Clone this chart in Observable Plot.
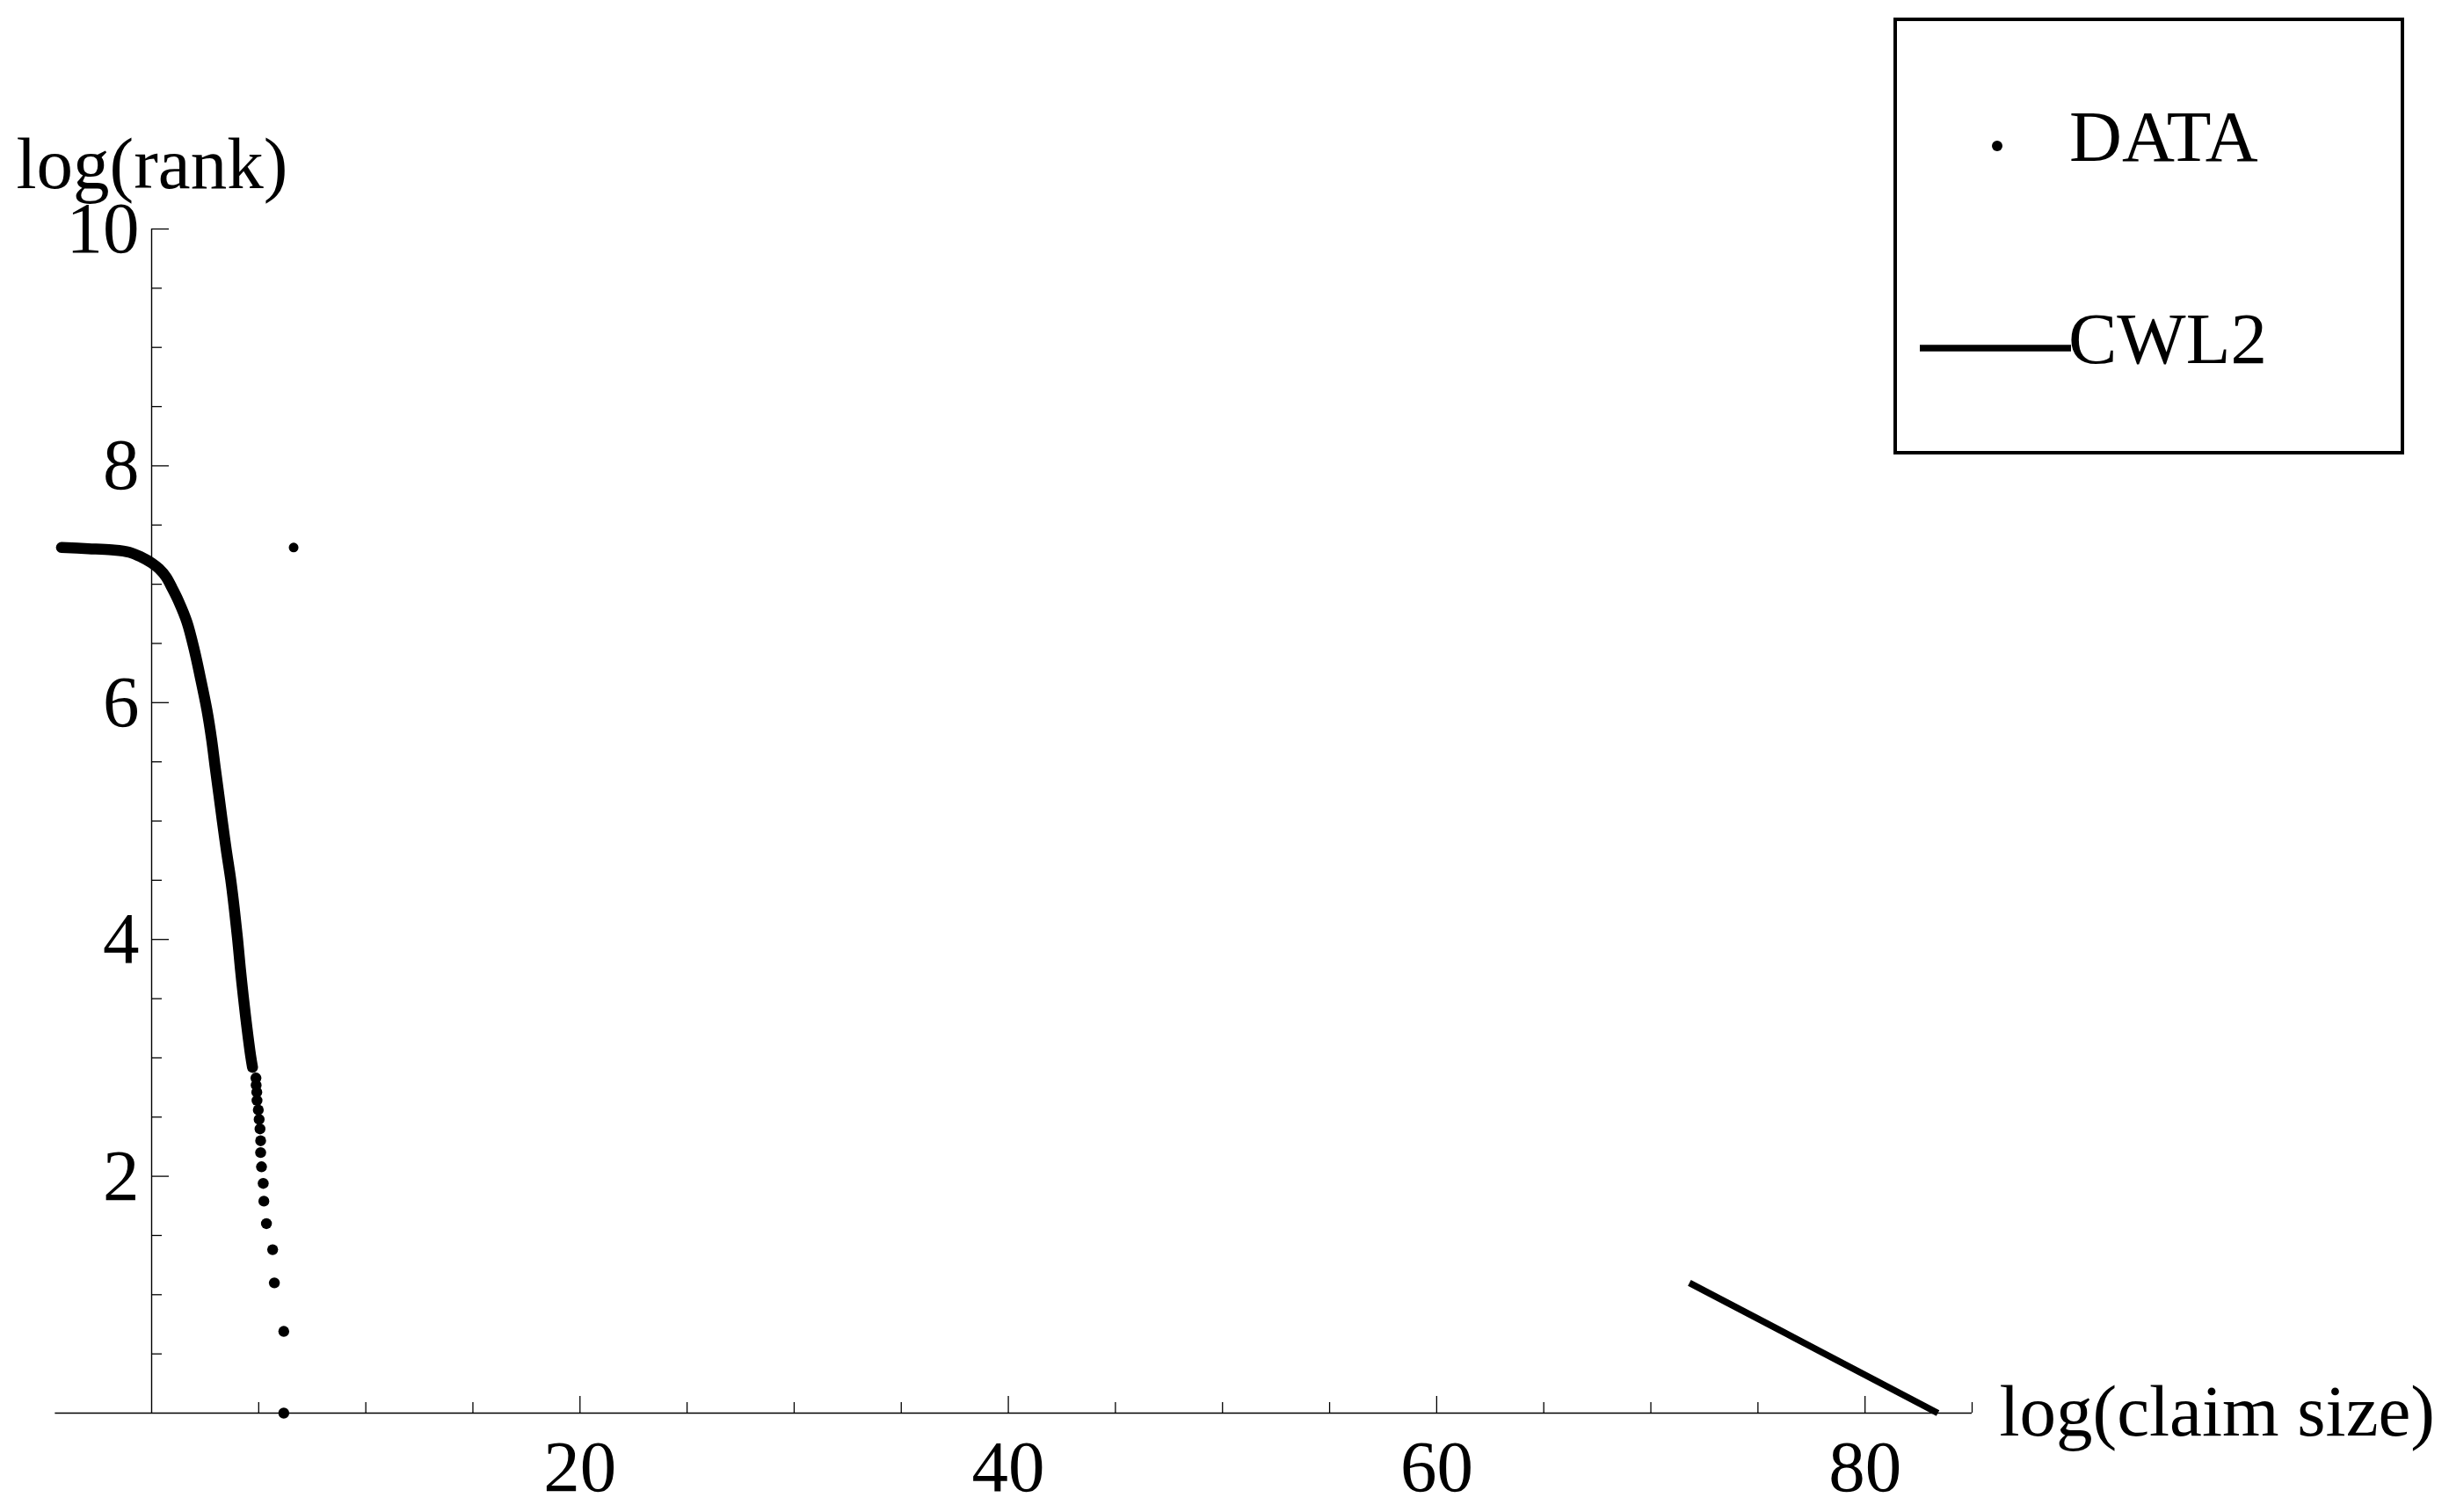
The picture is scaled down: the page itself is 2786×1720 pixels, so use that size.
<!DOCTYPE html>
<html>
<head>
<meta charset="utf-8">
<script src="https://cdn.jsdelivr.net/npm/d3@7"></script>
<script src="https://cdn.jsdelivr.net/npm/@observablehq/plot@0.6"></script>
<style>
  html, body { margin: 0; padding: 0; background: #fff; }
  #wrap { position: relative; width: 2786px; height: 1720px; overflow: hidden; }
  #legend { position: absolute; left: 2154px; top: 20px; }
</style>
</head>
<body>
<div id="wrap"></div>
<script>
// ---- data ----
// dense part of the DATA series (log(claim size), log(rank)), top to bottom
const denseX = [-4.21, -2.95, -1.86, -1.04, -0.49, 0.0, 0.35, 0.68, 0.95, 1.25, 1.65, 2.00, 2.30, 2.58, 2.80, 2.97, 3.14, 3.30, 3.49, 3.69, 3.86, 4.01, 4.14, 4.28, 4.44, 4.62, 4.71];
const denseY = [7.31, 7.30, 7.29, 7.27, 7.23, 7.18, 7.13, 7.06, 6.97, 6.86, 6.68, 6.44, 6.19, 5.94, 5.69, 5.45, 5.22, 5.00, 4.75, 4.51, 4.26, 4.01, 3.76, 3.52, 3.27, 3.02, 2.92];
// individually visible DATA points (largest claims, ranks 1..17)
const tailX = [6.17, 6.17, 5.73, 5.65, 5.36, 5.24, 5.21, 5.13, 5.09, 5.09, 5.06, 5.02, 4.98, 4.92, 4.91, 4.88, 4.87];
const tailY = [0.00, 0.69, 1.10, 1.38, 1.60, 1.79, 1.94, 2.08, 2.20, 2.30, 2.40, 2.48, 2.56, 2.64, 2.71, 2.77, 2.83];
// stray mark near the top
const strayX = [6.63];
const strayY = [7.31];
// CWL2 fitted line
const cwlX = [71.8, 83.4];
const cwlY = [1.10, 0.00];

const xMajorTicks = [20, 40, 60, 80];
const xMinorTicks = [5, 10, 15, 25, 30, 35, 45, 50, 55, 65, 70, 75, 85];
const yMajorTicks = [2, 4, 6, 8, 10];
const yMinorTicks = [0.5, 1, 1.5, 2.5, 3, 3.5, 4.5, 5, 5.5, 6.5, 7, 7.5, 8.5, 9, 9.5];
const xAxisExtent = [-4.5, 85];
const yAxisExtent = [0, 10];
const xTitle = "log(claim size)";
const yTitle = "log(rank)";
const legendLabels = ["DATA", "CWL2"];

// ---- tables ----
const dense = denseX.map((x, i) => ({x, y: denseY[i]}));
const tail = tailX.map((x, i) => ({x, y: tailY[i]}));
const stray = strayX.map((x, i) => ({x, y: strayY[i]}));
const cwl = cwlX.map((x, i) => ({x, y: cwlY[i]}));

const FONT = "'Liberation Serif', 'Times New Roman', Times, serif";
const FS = 83;

const chart = Plot.plot({
  width: 2786,
  height: 1720,
  marginLeft: 172,
  marginRight: 543,
  marginTop: 260,
  marginBottom: 113,
  x: {domain: [0, 85], label: null},
  y: {domain: [0, 10], label: null},
  style: {fontFamily: FONT, fontSize: FS + "px", color: "black", background: "white"},
  marks: [
    // axis lines crossing at the origin
    Plot.ruleY([0], {x1: xAxisExtent[0], x2: xAxisExtent[1], stroke: "black", strokeWidth: 1.4}),
    Plot.ruleX([0], {y1: yAxisExtent[0], y2: yAxisExtent[1], stroke: "black", strokeWidth: 1.4}),
    // inward ticks
    Plot.ruleX(xMajorTicks, {x: d => d, y1: 0, y2: 0, insetTop: -19, stroke: "black", strokeWidth: 1.3}),
    Plot.ruleX(xMinorTicks, {x: d => d, y1: 0, y2: 0, insetTop: -12, stroke: "black", strokeWidth: 1.3}),
    Plot.ruleY(yMajorTicks, {y: d => d, x1: 0, x2: 0, insetRight: -20, stroke: "black", strokeWidth: 1.3}),
    Plot.ruleY(yMinorTicks, {y: d => d, x1: 0, x2: 0, insetRight: -12, stroke: "black", strokeWidth: 1.3}),
    // tick labels
    Plot.axisX({ticks: xMajorTicks, tickSize: 0, tickPadding: 30, label: null, fontSize: FS}),
    Plot.axisY({ticks: yMajorTicks, tickSize: 0, tickPadding: 14, label: null, fontSize: FS}),
    // axis titles
    Plot.text([yTitle], {text: d => d, frameAnchor: "top-left", textAnchor: "start", lineAnchor: "bottom", dx: -154, dy: -47, fontSize: FS}),
    Plot.text([xTitle], {text: d => d, frameAnchor: "bottom-right", textAnchor: "start", lineAnchor: "bottom", dx: 31, dy: 25, fontSize: FS}),
    // DATA
    Plot.line(dense, {x: "x", y: "y", stroke: "black", strokeWidth: 12.5, strokeLinecap: "round", strokeLinejoin: "round", curve: "catmull-rom"}),
    Plot.dot(tail, {x: "x", y: "y", r: 6.2, fill: "black", stroke: null}),
    Plot.dot(stray, {x: "x", y: "y", r: 5.5, fill: "black", stroke: null}),
    // CWL2
    Plot.line(cwl, {x: "x", y: "y", stroke: "black", strokeWidth: 7.5, strokeLinecap: "butt"})
  ]
});

const wrap = document.getElementById("wrap");
wrap.appendChild(chart);

// legend box (top-right)
const lg = d3.create("svg").attr("id", "legend").attr("width", 582).attr("height", 498)
  .style("font-family", FONT).style("font-size", FS + "px");
lg.append("rect").attr("x", 2).attr("y", 2).attr("width", 577).attr("height", 493)
  .attr("fill", "white").attr("stroke", "black").attr("stroke-width", 4);
lg.append("circle").attr("cx", 118).attr("cy", 146).attr("r", 6).attr("fill", "black");
lg.append("text").attr("x", 200).attr("y", 163).attr("fill", "black").text(legendLabels[0]);
lg.append("line").attr("x1", 30).attr("x2", 202).attr("y1", 376).attr("y2", 376)
  .attr("stroke", "black").attr("stroke-width", 7.5);
lg.append("text").attr("x", 199).attr("y", 393).attr("fill", "black").text(legendLabels[1]);
wrap.appendChild(lg.node());
</script>
</body>
</html>
